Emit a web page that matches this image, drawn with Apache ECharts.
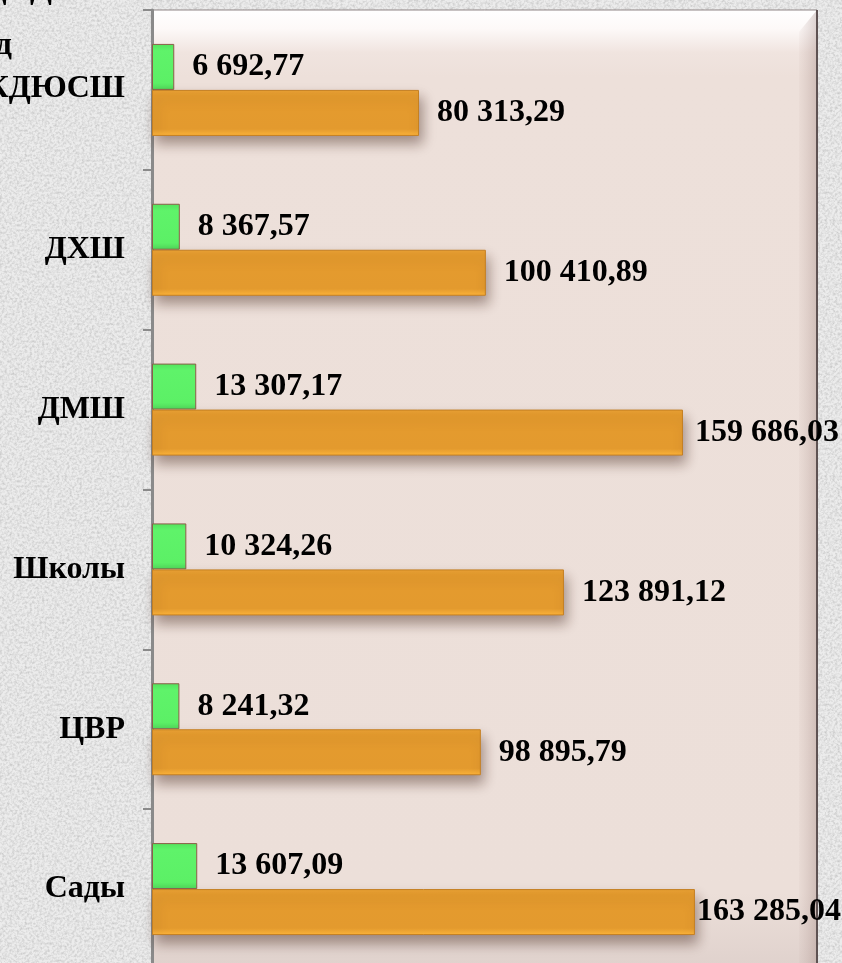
<!DOCTYPE html>
<html>
<head>
<meta charset="UTF-8">
<title>chart</title>
<script src="https://cdn.jsdelivr.net/npm/echarts@6/dist/echarts.min.js"></script>
<style>
  html, body { margin: 0; padding: 0; }
  body { background-color: #e4e4e4; }
  #chart { width: 842px; height: 963px; }
</style>
</head>
<body>
<div id="chart"></div>
<script>
// categories top to bottom (first one is cut off on the left in the original)
var categories = ['МБОУ ДОД\nспортивный отд\nКДЮСШ', 'ДХШ', 'ДМШ', 'Школы', 'ЦВР', 'Сады'];
// per month (green) and per year (orange)
var monthValues = [6692.77, 8367.57, 13307.17, 10324.26, 8241.32, 13607.09];
var yearValues = [80313.29, 100410.89, 159686.03, 123891.12, 98895.79, 163285.04];
var xMax = 200000;

// marble-ish background texture
var noise = "<svg xmlns='http://www.w3.org/2000/svg' width='256' height='256'>" +
  "<filter id='n'><feTurbulence type='fractalNoise' baseFrequency='0.4' numOctaves='3' stitchTiles='stitch'/>" +
  "<feColorMatrix type='matrix' values='0 0 0 0 0.45  0 0 0 0 0.45  0 0 0 0 0.45  1.2 0 0 0 -0.45'/></filter>" +
  "<rect width='100%' height='100%' fill='#ececec'/>" +
  "<rect width='100%' height='100%' filter='url(#n)'/></svg>";
document.body.style.backgroundImage = 'url("data:image/svg+xml,' + encodeURIComponent(noise) + '")';

function fmt(v) {
  var s = v.toFixed(2).split('.');
  return s[0].replace(/\B(?=(\d{3})+(?!\d))/g, ' ') + ',' + s[1];
}

var font = '"Liberation Serif", "Times New Roman", serif';
var gridLeft = 152, gridTop = 10, gridRight = 25;
var plotRight = 842 - gridRight;

var yearGap = [18, 18, 12, 18, 18, 2];

var yData = categories.map(function (c, i) {
  if (i === 0) {
    return { value: c, textStyle: { padding: [0, 0, 115, 0] } };
  }
  return c;
});

var chart = echarts.init(document.getElementById('chart'));
var option = {
  backgroundColor: 'transparent',
  animation: false,
  grid: {
    left: gridLeft, right: gridRight, top: gridTop, bottom: -6,
    outerBoundsMode: 'none',
    containLabel: false,
    show: true,
    borderColor: '#8f8585',
    borderWidth: 1,
    backgroundColor: {
      type: 'linear', x: 0, y: 0, x2: 0, y2: 1,
      colorStops: [
        { offset: 0, color: '#ffffff' },
        { offset: 0.02, color: '#fdf9f8' },
        { offset: 0.045, color: '#f0e4df' },
        { offset: 0.07, color: '#ede0da' },
        { offset: 0.92, color: '#ecdfd9' },
        { offset: 1, color: '#dfd1cc' }
      ]
    }
  },
  xAxis: {
    type: 'value',
    min: 0,
    max: xMax,
    show: false
  },
  yAxis: {
    type: 'category',
    data: yData,
    inverse: true,
    axisLine: { show: true, lineStyle: { color: '#8a8a8a', width: 3 } },
    axisTick: { show: true, length: 9, lineStyle: { color: '#8a8a8a', width: 2 } },
    axisLabel: {
      margin: 27,
      color: '#000',
      fontFamily: font,
      fontWeight: 'bold',
      fontSize: 32,
      lineHeight: 43,
      align: 'right',
      formatter: function (v) {
        var parts = v.split('\n');
        if (parts.length < 3) return v;
        return '{a|' + parts[0] + '}\n{b|' + parts[1] + '}\n' + parts[2];
      },
      rich: {
        a: { fontFamily: font, fontWeight: 'bold', fontSize: 32, lineHeight: 70, padding: [0, 73, 0, 0] },
        b: { fontFamily: font, fontWeight: 'bold', fontSize: 32, lineHeight: 43, padding: [0, 113, 0, 0] }
      }
    }
  },
  graphic: [
    {
      type: 'polygon',
      silent: true,
      shape: { points: [[plotRight, gridTop], [plotRight - 18, gridTop + 22], [plotRight - 18, 963], [plotRight, 963]] },
      style: {
        fill: {
          type: 'linear', x: 0, y: 0, x2: 1, y2: 0,
          colorStops: [
            { offset: 0, color: 'rgba(170,140,135,0.05)' },
            { offset: 1, color: 'rgba(140,110,105,0.3)' }
          ]
        }
      },
      z: 0
    },
    {
      type: 'line',
      silent: true,
      shape: { x1: plotRight, y1: gridTop, x2: plotRight, y2: 963 },
      style: { stroke: '#5e5252', lineWidth: 2 },
      z: 0
    }
  ],
  series: [
    {
      name: 'В месяц',
      type: 'bar',
      data: monthValues,
      barWidth: 46,
      barGap: '0%',
      itemStyle: {
        color: {
          type: 'linear', x: 0, y: 0, x2: 0, y2: 1,
          colorStops: [
            { offset: 0, color: '#52e25c' },
            { offset: 0.15, color: '#5ff36a' },
            { offset: 0.85, color: '#5cf066' },
            { offset: 1, color: '#4fd75a' }
          ]
        },
        borderColor: '#8b5e48',
        borderWidth: 1
      },
      label: {
        show: true,
        position: 'right',
        distance: 18,
        color: '#000',
        fontFamily: font,
        fontWeight: 'bold',
        fontSize: 32,
        formatter: function (p) { return fmt(p.value); }
      }
    },
    {
      name: 'В год',
      type: 'bar',
      barWidth: 46,
      barGap: '0%',
      data: yearValues.map(function (v, i) {
        return { value: v, label: { distance: yearGap[i] } };
      }),
      itemStyle: {
        color: {
          type: 'linear', x: 0, y: 0, x2: 0, y2: 1,
          colorStops: [
            { offset: 0, color: '#e9a234' },
            { offset: 0.12, color: '#e59b2e' },
            { offset: 0.85, color: '#e39a2e' },
            { offset: 1, color: '#ffb63b' }
          ]
        },
        borderColor: '#c47f22',
        borderWidth: 1,
        shadowColor: 'rgba(70,40,30,0.45)',
        shadowBlur: 12,
        shadowOffsetX: 3,
        shadowOffsetY: 8
      },
      label: {
        show: true,
        position: 'right',
        distance: 18,
        color: '#000',
        fontFamily: font,
        fontWeight: 'bold',
        fontSize: 32,
        formatter: function (p) { return fmt(p.value); }
      }
    }
  ]
};
chart.setOption(option);
</script>
</body>
</html>
